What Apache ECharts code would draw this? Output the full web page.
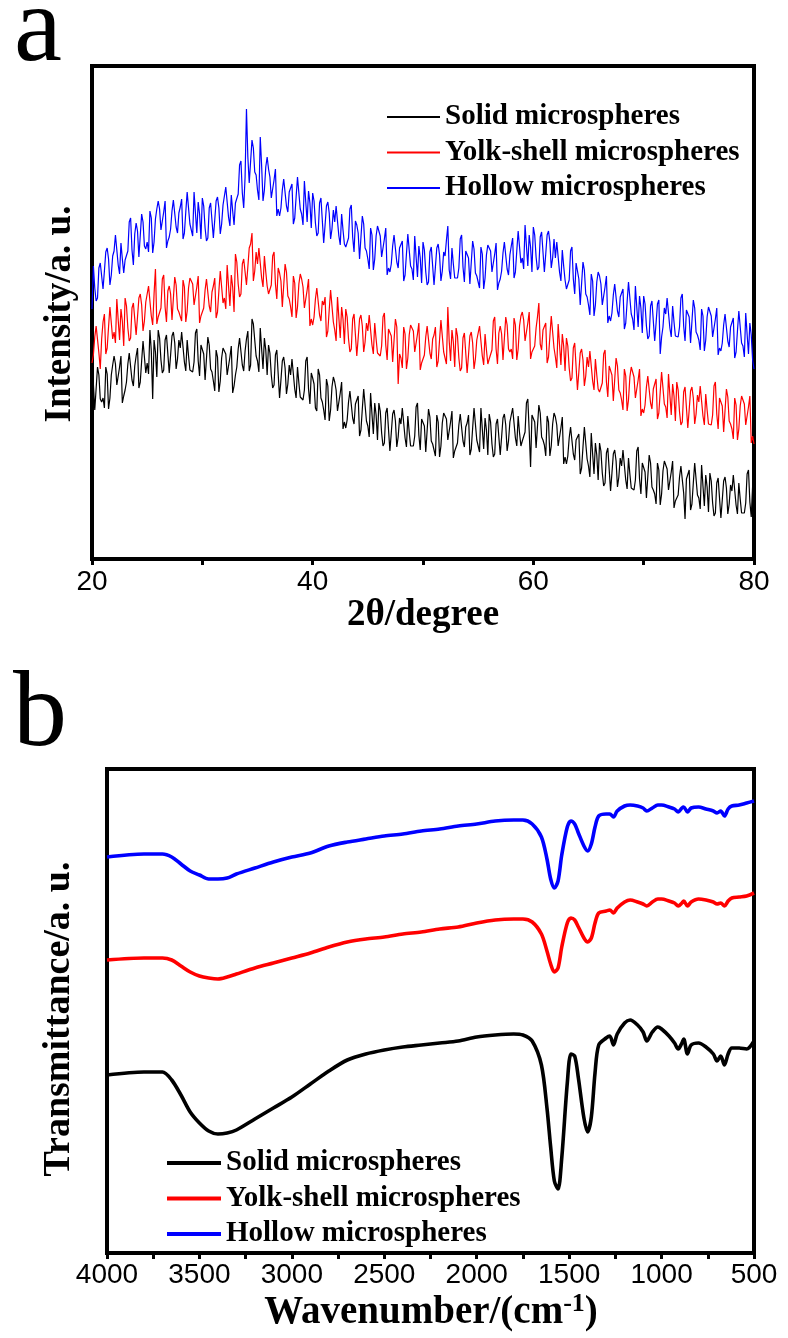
<!DOCTYPE html>
<html><head><meta charset="utf-8">
<script src="https://cdn.jsdelivr.net/npm/echarts/dist/echarts.min.js"></script>
<style>html,body{margin:0;padding:0;background:#fff}#c{width:788px;height:1338px}</style>
</head><body><div id="c"></div><script>
// ---------- Panel a: XRD (2θ from 20 to 80, step 0.125) ----------
const xrdStart = 20, xrdStep = 0.125;
const xrdTicks = [20, 40, 60, 80];
const xrdSolid = [
183,175,149,148,192,184,160,157, 161,151,192,185,150,161,184,194, 203,195,174,176,192,203,156,163, 169,177,195,206,206,179,173,193, 203,211,171,177,198,218,219,186,
196,185,229,208,160,219,207,182, 229,221,199,186,189,219,224,226, 186,204,223,227,216,190,200,219, 211,227,227,197,188,219,203,189, 188,187,197,226,230,198,183,214,
213,205,179,178,222,214,190,187, 178,168,209,202,167,178,201,211, 213,205,184,186,202,213,166,173, 184,192,210,221,221,194,188,208, 220,228,188,194,240,235,236,203,
198,187,231,210,190,221,209,184, 214,206,184,171,174,204,209,211, 161,179,198,202,191,165,175,194, 184,200,200,170,161,192,176,162, 160,159,169,198,202,170,155,186,
181,175,151,148,190,184,161,157, 149,139,180,173,138,149,172,182, 177,169,148,150,166,177,130,137, 131,139,157,168,168,141,135,155, 155,163,123,129,150,170,171,138,
133,122,166,145,125,156,144,119, 156,148,126,113,116,146,151,153, 108,126,145,149,138,112,122,141, 135,151,151,121,112,143,127,113, 114,113,123,152,156,124,109,140,
141,133,107,106,150,142,118,115, 113,103,144,137,102,113,136,146, 148,140,119,121,137,148,101,108, 108,116,134,145,145,118,112,132, 136,144,104,110,131,151,152,119,
118,107,151,130,110,141,129,104, 145,137,115,102,105,135,140,142, 104,122,141,145,134,108,118,137, 136,151,150,121,113,143,126,113, 118,117,127,156,160,128,92,144,
145,137,111,110,154,146,122,119, 114,103,143,137,103,113,135,146, 142,134,113,115,131,142,95,102, 95,103,121,132,132,105,99,119, 117,125,85,91,112,132,133,100,
93,82,126,105,85,116,104,79, 116,108,86,73,76,106,111,113, 68,86,105,109,98,72,82,101, 93,109,109,79,70,101,85,71, 70,69,79,108,112,80,65,96,
95,87,61,60,104,96,72,69, 65,55,96,89,54,65,88,98, 98,90,69,71,87,98,51,58, 56,64,82,93,93,66,40,80, 81,89,49,55,76,96,97,64,
61,50,94,73,53,84,72,47, 86,78,56,43,46,76,81,83, 41,59,78,82,71,45,55,74, 68,84,84,54,45,76,60,46, 47,46,56,85,89,57,42,73,
52];
const xrdYolk = [
196,204,222,233,233,206,190,220, 237,245,205,211,232,252,253,220, 227,216,260,239,219,250,238,213, 261,253,231,218,221,251,256,258, 224,242,261,265,254,228,238,257,
257,273,273,243,234,265,290,235, 242,241,251,280,284,252,237,268, 273,265,239,238,282,274,250,247, 248,238,279,272,237,248,271,281, 283,275,254,256,272,283,236,243,
243,251,269,280,280,253,247,267, 273,281,241,247,268,288,289,256, 261,250,294,273,253,284,272,247, 305,297,275,262,265,295,300,302, 274,292,311,315,326,278,288,307,
295,311,311,281,272,303,287,273, 265,264,274,303,307,275,260,291, 286,278,252,251,295,287,263,260, 252,242,283,276,241,252,275,285, 280,272,251,253,269,280,233,240,
234,242,260,271,271,244,238,258, 254,262,222,228,249,269,270,237, 229,218,262,241,221,252,240,215, 250,242,220,207,210,240,245,247, 203,221,240,244,233,207,217,236,
228,244,244,214,205,236,220,206, 204,203,213,242,246,214,199,230, 231,223,197,196,240,232,175,205, 201,191,232,225,190,201,224,234, 236,228,207,209,225,236,189,196,
196,204,222,233,233,206,200,220, 224,232,192,198,219,239,240,207, 206,195,252,218,198,229,217,192, 231,223,201,188,191,221,226,228, 186,204,223,227,216,190,200,219,
217,233,233,203,194,225,209,195, 200,199,209,238,242,210,195,226, 233,225,199,198,242,234,210,207, 210,200,241,234,199,210,233,243, 247,239,218,220,236,247,200,207,
205,213,231,242,256,215,209,229, 228,236,196,202,223,243,244,211, 202,191,235,214,194,225,213,188, 221,213,191,178,181,211,216,218, 169,187,206,210,199,173,183,202,
192,208,208,178,169,200,184,170, 167,166,176,205,209,177,162,193, 192,184,158,157,201,193,169,166, 159,149,190,183,148,159,182,192, 190,182,161,163,179,190,143,150,
146,154,172,183,183,156,150,170, 172,180,140,146,167,187,188,155, 152,141,185,164,144,175,163,138, 177,169,147,134,137,167,172,174, 131,149,168,172,161,135,145,164,
157,173,173,143,134,165,149,135, 135,134,144,173,177,145,130,161, 161,153,127,126,170,162,138,135, 130,120,161,154,119,130,153,163, 163,155,134,136,152,163,116,123,
115];
const xrdHollow = [
250,293,271,258,261,291,296,298, 270,288,307,311,300,274,284,303, 308,324,324,294,285,316,300,286, 299,298,308,337,341,309,294,325, 336,328,302,301,345,337,313,310,
317,307,348,341,306,317,340,350, 358,350,329,331,347,358,311,318, 322,330,348,359,359,332,326,346, 352,360,320,326,347,367,368,335, 334,323,367,346,326,357,345,320,
361,353,331,318,321,351,356,358, 321,339,358,362,351,325,335,354, 356,372,372,342,333,364,348,334, 356,355,365,394,398,366,351,382, 450,402,376,375,419,411,387,384,
369,359,422,393,358,369,392,402, 390,382,361,363,379,390,343,350, 343,351,369,380,380,353,347,367, 367,375,335,341,362,382,383,350, 345,334,378,357,337,368,356,331,
366,358,336,323,326,356,361,363, 316,334,353,357,346,320,330,349, 337,353,353,323,314,345,329,315, 312,311,321,350,354,322,307,338, 334,326,300,299,343,335,311,308,
300,290,331,324,289,300,323,333, 331,323,302,304,320,331,284,291, 287,295,313,324,324,297,291,311, 310,318,278,284,305,325,326,293, 290,279,323,302,282,313,301,276,
317,309,287,274,277,307,312,314, 274,292,311,315,304,278,288,307, 303,319,333,289,280,311,295,281, 282,281,291,320,324,292,277,308, 309,301,275,274,318,310,286,283,
281,271,312,305,270,281,304,314, 316,308,287,289,305,316,269,276, 280,288,306,317,317,290,284,304, 313,321,281,287,308,328,329,296, 301,290,334,313,293,324,312,287,
332,324,302,289,292,322,327,329, 287,305,324,328,317,291,301,320, 301,317,317,287,278,309,293,279, 270,269,279,308,312,280,265,296, 288,280,254,253,297,289,265,262,
254,244,285,278,243,254,277,287, 283,275,254,256,272,283,236,243, 238,246,264,275,275,248,242,262, 262,270,230,236,257,277,278,245, 240,229,273,252,232,263,251,226,
263,255,233,220,223,253,258,260, 218,236,255,259,205,222,232,251, 245,261,261,231,222,253,237,223, 223,222,232,261,265,233,218,249, 250,242,216,215,259,251,227,224,
219,209,250,243,208,219,242,252, 251,243,222,224,240,251,204,211, 208,216,234,245,245,218,212,232, 233,241,201,207,228,248,249,216, 213,202,246,225,205,236,224,199,
190];

// ---------- Panel b: FTIR ----------
const wavenumbers = [4000,3800,3700,3650,3600,3550,3500,3450,3400,3350,3300,3200,3100,3000,2900,2800,2700,2600,2500,2400,
2300,2200,2100,2000,1900,1800,1750,1700,1650,1620,1600,1580,1560,1540,1510,1490,1470,1450,1420,1400,
1380,1360,1340,1300,1280,1260,1240,1200,1170,1130,1100,1080,1050,1020,1000,960,930,910,890,880,
860,840,800,760,720,700,680,660,640,620,580,540,500];
const ftirTicks = [4000,3500,3000,2500,2000,1500,1000,500];
const ftirSolid = [178,181,181,173,158,141,130,122,119,120,123,134,145,156,169,182,193,199,203,206,
208,210,212,216,218,219,218,212,188,145,106,72,64,95,170,199,197,175,135,121,
136,180,208,215,217,208,219,230,233,228,221,212,221,226,224,217,210,204,210,214,
199,208,210,206,199,192,197,188,199,205,205,204,212];
const ftirYolk = [293,295,295,293,287,281,277,275,274,276,279,285,290,295,300,306,311,314,316,319,
321,324,326,330,333,334,334,331,319,302,289,281,285,306,330,335,333,326,315,311,
315,330,340,342,343,340,345,351,353,351,349,347,351,354,354,352,350,347,350,352,
347,351,354,353,351,349,350,347,352,355,356,357,360];
const ftirHollow = [396,399,399,396,389,382,378,374,374,375,379,385,391,396,400,407,411,414,417,419,
422,424,427,429,432,433,433,429,416,394,374,365,372,398,426,432,429,420,407,402,
409,426,437,439,439,436,442,447,448,447,445,442,445,448,448,446,444,441,445,446,
441,445,446,444,442,440,442,437,444,447,448,450,452];

const names = ['Solid microspheres','Yolk-shell microspheres','Hollow microspheres'];
const colors = ['#000000','#ff0000','#0000ff'];

const SERIF = '"Liberation Serif","Times New Roman",serif';
const SANS = '"Liberation Sans",Arial,sans-serif';

const xrdPairs = arr => arr.map((v,i)=>[xrdStart + i*xrdStep, v]);
const ftirPairs = arr => arr.map((v,i)=>[wavenumbers[i], v]);

function xrdSeries(name, arr, color){
  return {type:'line', name, xAxisIndex:0, yAxisIndex:0, data:xrdPairs(arr), symbol:'none', showSymbol:false,
    lineStyle:{color, width:1.2}, itemStyle:{color}, silent:true};
}
function ftirSeries(name, arr, color){
  return {type:'line', name, xAxisIndex:1, yAxisIndex:1, data:ftirPairs(arr), symbol:'none', showSymbol:false,
    smooth:0.3, lineStyle:{color, width:3.6}, itemStyle:{color}, silent:true};
}

const axisCommon = {
  axisLine:{show:false},
  axisTick:{show:true, inside:false, length:6, lineStyle:{color:'#000', width:3}},
  splitLine:{show:false}
};

const chart = echarts.init(document.getElementById('c'), null, {renderer:'canvas', width:788, height:1338});
chart.setOption({
  animation:false,
  backgroundColor:'#ffffff',
  grid:[
    {left:92, top:66, width:662, height:493, show:true, borderColor:'#000', borderWidth:4},
    {left:107, top:769, width:647, height:484, show:true, borderColor:'#000', borderWidth:4}
  ],
  xAxis:[
    Object.assign({gridIndex:0, type:'value', min:20, max:80, interval:10,
      axisLabel:{formatter:v => xrdTicks.includes(v) ? String(v) : '', fontFamily:SANS, fontSize:28, color:'#000', margin:9}}, axisCommon),
    Object.assign({gridIndex:1, type:'value', min:500, max:4000, interval:250, inverse:true,
      axisLabel:{formatter:v => ftirTicks.includes(v) ? String(v) : '', fontFamily:SANS, fontSize:28, color:'#000', margin:8}}, axisCommon)
  ],
  yAxis:[
    {gridIndex:0, type:'value', min:0, max:493, show:false, splitLine:{show:false}},
    {gridIndex:1, type:'value', min:0, max:484, show:false, splitLine:{show:false}}
  ],
  legend:[
    {data:names, orient:'vertical', left:382, top:97, itemWidth:53, itemHeight:2, itemGap:5.5, icon:'rect', selectedMode:false,
      textStyle:{fontFamily:SERIF, fontWeight:'bold', fontSize:29, color:'#000', lineHeight:30}},
    {data:names, orient:'vertical', left:162, top:1143, itemWidth:54, itemHeight:4, itemGap:5.5, icon:'rect', selectedMode:false,
      textStyle:{fontFamily:SERIF, fontWeight:'bold', fontSize:29, color:'#000', lineHeight:30}}
  ],
  series:[
    xrdSeries(names[2], xrdHollow, colors[2]),
    xrdSeries(names[1], xrdYolk, colors[1]),
    xrdSeries(names[0], xrdSolid, colors[0]),
    ftirSeries(names[0], ftirSolid, colors[0]),
    ftirSeries(names[1], ftirYolk, colors[1]),
    ftirSeries(names[2], ftirHollow, colors[2])
  ],
  graphic:[
    {type:'text', x:14, y:32, style:{text:'a', font:'normal 108px '+SERIF, fill:'#000', align:'left', verticalAlign:'middle'}},
    {type:'text', x:13, y:717, style:{text:'b', font:'normal 108px '+SERIF, fill:'#000', align:'left', verticalAlign:'middle'}},
    {type:'text', x:60, y:314, rotation:Math.PI/2, style:{text:'Intensity/a. u.', font:'bold 37px '+SERIF, fill:'#000', align:'center', verticalAlign:'middle'}},
    {type:'text', x:423, y:615, style:{text:'2θ/degree', font:'bold 37px '+SERIF, fill:'#000', align:'center', verticalAlign:'middle'}},
    {type:'text', x:59, y:1019, rotation:Math.PI/2, style:{text:'Transmittance/a. u.', font:'bold 38px '+SERIF, fill:'#000', align:'center', verticalAlign:'middle'}},
    {type:'text', x:431, y:1313, style:{text:'{m|Wavenumber/(cm}{s|-1}{m|)}', align:'center', verticalAlign:'middle',
      rich:{m:{font:'bold 39px '+SERIF, fill:'#000', lineHeight:44}, s:{font:'bold 26px '+SERIF, fill:'#000', verticalAlign:'top', lineHeight:26}}}}
  ]
});
</script></body></html>
